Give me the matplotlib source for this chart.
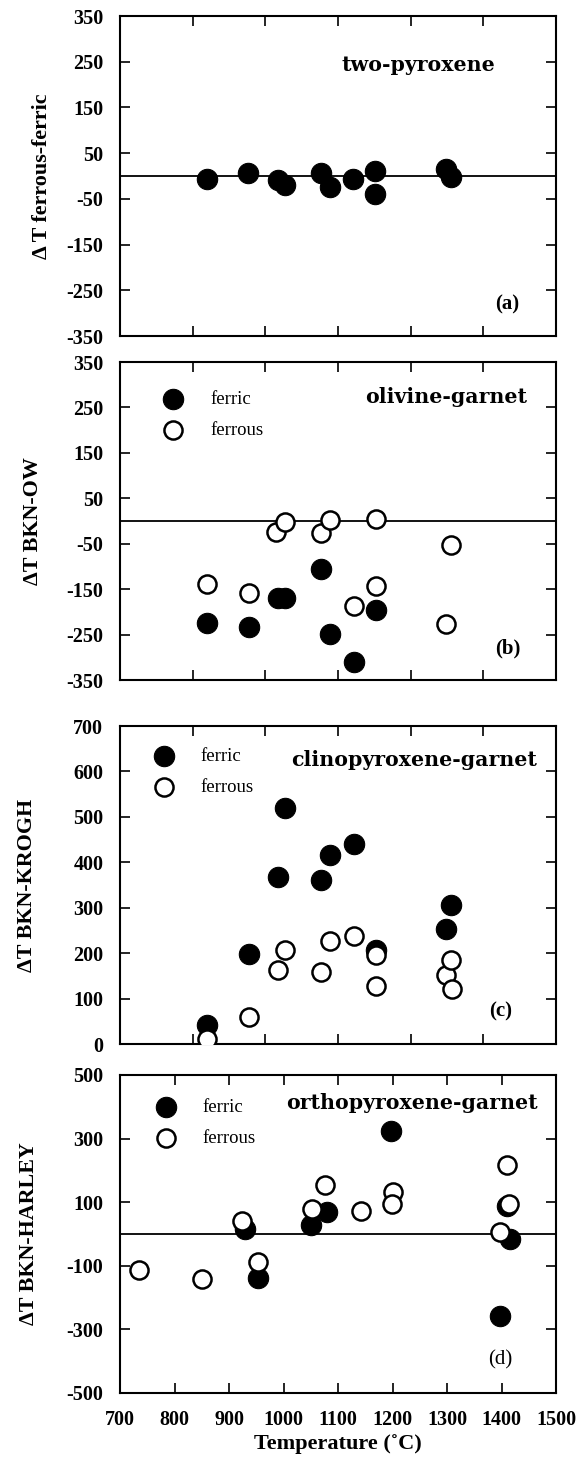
import numpy as np
import matplotlib.pyplot as plt

plt.rcParams['font.family'] = ['Liberation Serif', 'DejaVu Serif']
plt.rcParams['axes.unicode_minus'] = False

# (a) two-pyroxene, ferrous - ferric
t_a = [859, 935, 989, 1003, 1068, 1086, 1128, 1167, 1167, 1298, 1307]
d_a = [-6, 7, -9, -20, 7, -25, -6, 12, -40, 16, -2]

# (b) olivine-garnet
t_b_ferric = [859, 937, 989, 1003, 1069, 1086, 1129, 1169]
d_b_ferric = [-224, -233, -170, -170, -106, -249, -311, -196]
t_b_ferrous = [859, 937, 987, 1003, 1069, 1086, 1129, 1169, 1169, 1298, 1307]
d_b_ferrous = [-139, -159, -24, -2, -27, 3, -187, 5, -142, -227, -52]

# (c) clinopyroxene-garnet
t_c_ferric = [859, 937, 989, 1003, 1069, 1086, 1129, 1169, 1298, 1307]
d_c_ferric = [42, 199, 368, 520, 361, 417, 440, 207, 254, 307]
t_c_ferrous = [859, 937, 989, 1003, 1069, 1086, 1129, 1169, 1169, 1298, 1307, 1309]
d_c_ferrous = [12, 59, 163, 207, 158, 227, 238, 196, 128, 152, 185, 120]

# (d) orthopyroxene-garnet
t_d_ferric = [930, 953, 1050, 1079, 1198, 1398, 1415, 1410]
d_d_ferric = [16, -139, 28, 68, 323, -259, -16, 89]
t_d_ferrous = [734, 851, 924, 953, 1052, 1077, 1142, 1201, 1199, 1398, 1410, 1414]
d_d_ferrous = [-113, -141, 42, -87, 79, 155, 73, 133, 94, 5, 218, 94]

titles = ['two-pyroxene', 'olivine-garnet', 'clinopyroxene-garnet', 'orthopyroxene-garnet']
ylabels = ['\u0394 T ferrous-ferric', '\u0394T BKN-OW', '\u0394T BKN-KROGH', '\u0394T BKN-HARLEY']
tags = ['(a)', '(b)', '(c)', '(d)']
yticks = [np.arange(-350, 351, 100), np.arange(-350, 351, 100),
          np.arange(0, 701, 100), np.arange(-500, 501, 200)]
xticks_top = np.linspace(700, 1500, 7)
xticks_bottom = np.arange(700, 1501, 100)

fig = plt.figure(figsize=(5.79, 14.57), dpi=100)
W, H = 579.0, 1457.0
boxes = [(16, 336), (362, 680), (726, 1044), (1075, 1393)]  # top, bottom in px
axes = []
for top, bot in boxes:
    axes.append(fig.add_axes([120 / W, 1 - bot / H, 436 / W, (bot - top) / H]))

filled = dict(c='black', s=215, linewidths=0.8, edgecolors='black', zorder=3)
hollow = dict(facecolors='white', s=170, linewidths=1.8, edgecolors='black', zorder=4)

axes[0].scatter(t_a, d_a, **filled)
axes[1].scatter(t_b_ferric, d_b_ferric, label='ferric', **filled)
axes[1].scatter(t_b_ferrous, d_b_ferrous, label='ferrous', **hollow)
axes[2].scatter(t_c_ferric, d_c_ferric, label='ferric', **filled)
axes[2].scatter(t_c_ferrous, d_c_ferrous, label='ferrous', **hollow)
axes[3].scatter(t_d_ferric, d_d_ferric, label='ferric', **filled)
axes[3].scatter(t_d_ferrous, d_d_ferrous, label='ferrous', **hollow)

title_pos = [(0.86, 0.847), (0.934, 0.889), (0.957, 0.893), (0.957, 0.911)]
tag_pos = [(0.889, 0.097), (0.889, 0.10), (0.872, 0.102), (0.872, 0.104)]
leg_pos = [None, (0.101, 0.909), (0.079, 0.932), (0.084, 0.926)]
ylab_x = [-0.156, -0.177, -0.19, -0.186]

for i, ax in enumerate(axes):
    ax.set_xlim(700, 1500)
    ax.set_ylim(yticks[i][0], yticks[i][-1])
    if i != 2:
        ax.axhline(0, color='black', lw=1.3, zorder=1)
    ax.set_yticks(yticks[i])
    ax.set_yticklabels([str(v) for v in yticks[i]], fontweight='bold')
    if i < 3:
        ax.set_xticks(xticks_top)
        ax.set_xticklabels([])
    else:
        ax.set_xticks(xticks_bottom)
        ax.set_xticklabels([str(v) for v in xticks_bottom], fontweight='bold')
        ax.set_xlabel('Temperature (\u02daC)', fontsize=16, fontweight='bold', labelpad=3)
    ax.tick_params(direction='in', top=True, right=True, length=7, width=1.2,
                   labelsize=14.5, pad=12)
    for s in ax.spines.values():
        s.set_linewidth(1.5)
    ax.set_ylabel(ylabels[i], fontsize=15.8, fontweight='bold')
    ax.yaxis.set_label_coords(ylab_x[i], 0.5)
    ax.text(title_pos[i][0], title_pos[i][1], titles[i], transform=ax.transAxes,
            ha='right', va='center', fontsize=14.8, fontweight='bold', family='DejaVu Serif')
    ax.text(tag_pos[i][0], tag_pos[i][1], tags[i], transform=ax.transAxes,
            ha='center', va='center', fontsize=15, fontweight='bold' if i < 3 else 'normal')
    if leg_pos[i] is not None:
        ax.legend(loc='upper left', bbox_to_anchor=leg_pos[i], frameon=False, fontsize=13.5,
                  handlelength=1.0, handletextpad=1.46, labelspacing=0.74,
                  borderpad=0, borderaxespad=0, scatterpoints=1)

plt.savefig('out.png', dpi=100)
